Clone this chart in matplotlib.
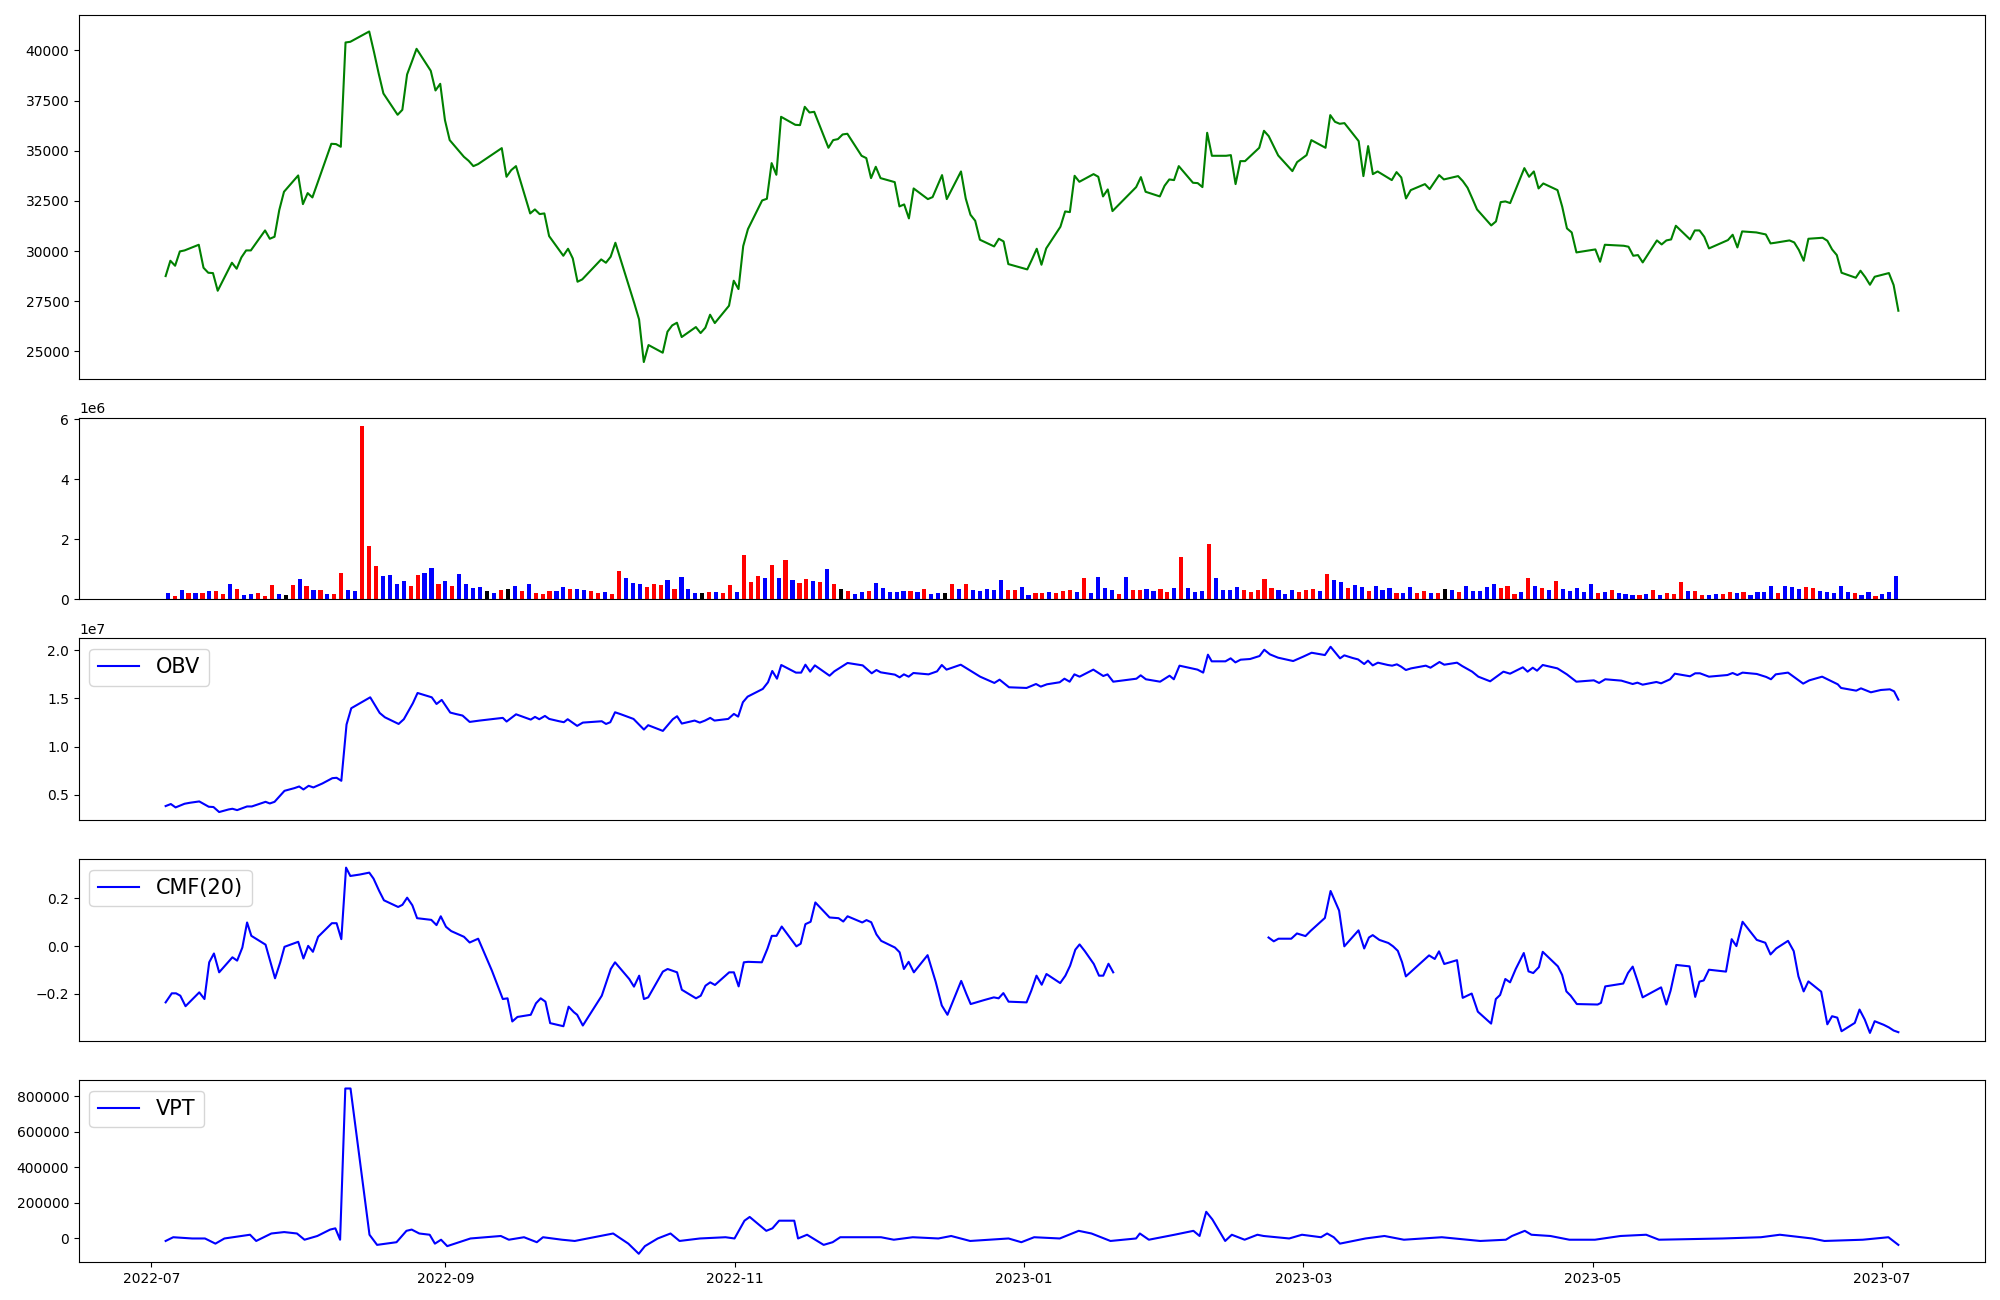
import numpy as np
import pandas as pd
import matplotlib
matplotlib.use("Agg")
import matplotlib.pyplot as plt
import matplotlib.dates as mdates

# ---------------- data ----------------
holidays = ['2022-08-15', '2022-09-09', '2022-09-12', '2022-10-03', '2022-10-10',
            '2022-12-30', '2023-01-23', '2023-01-24', '2023-03-01', '2023-05-01',
            '2023-05-05', '2023-05-29', '2023-06-06']
trade_dates = pd.bdate_range('2022-07-04', '2023-07-05').difference(pd.to_datetime(holidays))

close = [
    # 2022-07
    28755, 29519, 29270, 29984, 30034, 30316, 29170, 28921, 28904, 28024,
    29420, 29121, 29685, 30034, 30034, 31030, 30615, 30715, 32044, 32957,
    # 2022-08
    33771, 32342, 32891, 32675, 33339, 35349, 35333, 35200, 40399, 40432,
    40947, 39934, 38854, 37857, 36794, 37043, 38804, 39435, 40083, 38987,
    38007, 38339,
    # 2022-09
    36528, 35532, 34701, 34502, 34236, 34336, 35133, 33705, 34037, 34236,
    31878, 32077, 31845, 31878, 30748, 29768, 30117, 29635, 28473, 28590,
    # 2022-10
    29586, 29420, 29718, 30416, 27393, 26596, 24470, 25317, 24935, 25982,
    26297, 26430, 25716, 26214, 25915, 26181, 26829, 26413, 27277,
    # 2022-11
    28523, 28108, 30250, 31097, 32525, 32608, 34386, 33805, 36694, 36295,
    36279, 37192, 36910, 36943, 35150, 35532, 35582, 35814, 35848, 34751,
    34635, 33638,
    # 2022-12
    34203, 33638, 33439, 32226, 32326, 31629, 33123, 32592, 32691, 33240,
    33788, 32592, 33970, 32625, 31812, 31513, 30566, 30233, 30615, 30482,
    29353,
    # 2023-01
    29087, 29586, 30117, 29320, 30134, 31213, 31977, 31944, 33754, 33455,
    33837, 33705, 32725, 33074, 31994, 33190, 33688, 32957, 32725, 33256,
    # 2023-02
    33572, 33539, 34236, 33406, 33389, 33190, 35897, 34751, 34751, 34784,
    33339, 34485, 34485, 35150, 35997, 35731, 35250, 34768, 33987, 34436,
    # 2023-03
    34784, 35532, 35150, 36778, 36445, 36346, 36379, 35482, 33738, 35233,
    33837, 33970, 33539, 33937, 33671, 32625, 33040, 33339, 33090, 33439,
    33788, 33572,
    # 2023-04
    33738, 33489, 33157, 32625, 32077, 31280, 31479, 32442, 32476, 32393,
    34136, 33705, 33970, 33123, 33372, 33040, 32210, 31130, 30931, 29934,
    # 2023-05
    30084, 29469, 30316, 30266, 30217, 29768, 29801, 29436, 30532, 30333,
    30532, 30582, 31263, 30582, 31030, 31030, 30715, 30134, 30549, 30815,
    # 2023-06
    30183, 30981, 30931, 30831, 30383, 30416, 30532, 30433, 30050, 29519,
    30615, 30665, 30516, 30084, 29801, 28921, 28672, 29021, 28705, 28323,
    28722,
    # 2023-07
    28905, 28307, 27028,
]

volume_m = [
    0.20, 0.13, 0.30, 0.20, 0.20, 0.20, 0.28, 0.28, 0.18, 0.51,
    0.34, 0.14, 0.18, 0.21, 0.11, 0.48, 0.18, 0.14, 0.48, 0.67,
    0.44, 0.31, 0.31, 0.18, 0.18, 0.87, 0.31, 0.28, 5.76, 1.77,
    1.10, 0.77, 0.80, 0.51, 0.61, 0.44, 0.81, 0.87, 1.03, 0.51,
    0.61, 0.44, 0.84, 0.51, 0.38, 0.41, 0.28, 0.21, 0.31, 0.34,
    0.44, 0.28, 0.51, 0.21, 0.18, 0.28, 0.28, 0.41, 0.34, 0.34,
    0.31, 0.28, 0.21, 0.24, 0.18, 0.94, 0.71, 0.54, 0.51, 0.41,
    0.51, 0.48, 0.64, 0.34, 0.74, 0.34, 0.21, 0.21, 0.24, 0.24,
    0.21, 0.48, 0.24, 1.47, 0.58, 0.78, 0.71, 1.14, 0.71, 1.31,
    0.64, 0.54, 0.68, 0.61, 0.58, 1.01, 0.51, 0.34, 0.28, 0.18,
    0.24, 0.28, 0.54, 0.38, 0.24, 0.24, 0.28, 0.28, 0.24, 0.34,
    0.18, 0.21, 0.21, 0.51, 0.34, 0.51, 0.31, 0.28, 0.34, 0.31,
    0.64, 0.31, 0.31, 0.41, 0.14, 0.21, 0.21, 0.24, 0.21, 0.28,
    0.31, 0.24, 0.71, 0.21, 0.74, 0.38, 0.31, 0.18, 0.74, 0.31,
    0.31, 0.34, 0.28, 0.34, 0.24, 0.38, 1.41, 0.38, 0.24, 0.28,
    1.84, 0.71, 0.31, 0.31, 0.41, 0.31, 0.24, 0.31, 0.68, 0.38,
    0.31, 0.18, 0.31, 0.24, 0.31, 0.34, 0.28, 0.84, 0.64, 0.58,
    0.38, 0.48, 0.41, 0.28, 0.44, 0.31, 0.38, 0.21, 0.21, 0.41,
    0.21, 0.28, 0.21, 0.21, 0.34, 0.31, 0.24, 0.44, 0.28, 0.28,
    0.41, 0.51, 0.38, 0.44, 0.18, 0.24, 0.71, 0.44, 0.38, 0.31,
    0.61, 0.34, 0.28, 0.38, 0.24, 0.51, 0.21, 0.24, 0.31, 0.21,
    0.18, 0.14, 0.14, 0.18, 0.31, 0.14, 0.21, 0.18, 0.58, 0.28,
    0.28, 0.14, 0.14, 0.18, 0.18, 0.24, 0.21, 0.24, 0.14, 0.24,
    0.24, 0.44, 0.21, 0.44, 0.41, 0.34, 0.41, 0.38, 0.28, 0.24,
    0.21, 0.44, 0.24, 0.21, 0.14, 0.24, 0.11, 0.18, 0.24, 0.78,
]

# r = up (red), b = down (blue), k = unchanged (black)
volume_dir = (
    "brbrbrbrrb" "rbbrrrbkrb" "rbrbrrbbrr" "rbbbbrrbbr" "brbbbbkbrk"
    "brbrrrbbrb" "brrbrrbbbr" "rrbrbbbkrb" "rrbrrrbrbr" "brrbrbrkrb"
    "brbbbbbrbr" "bbkrbrbbbb" "brrbbrrbrr" "rbrbbbbrbr" "rbbrrbrbbb"
    "rbbbbrrrrr" "bbbrrrbrbb" "rbbrbbbrbb" "rrbrkbrbbb" "bbrrrbrbrb"
    "rbbbbbrbrb" "bbrbrbrrrb" "rrbbrrbrbb" "bbrbbbrrbb" "bbbrbbrbbb"
)

# OBV (1e7 units), day offsets from 2022-07-01
obv_day = [
    2.8, 3.9, 4.9, 6.8, 7.9, 9.9, 11.9, 12.9, 14.1, 16.1, 16.9, 17.9, 20.0, 21.0,
    23.9, 24.8, 25.8, 27.9, 30.0, 31.0, 31.9, 33.0, 34.0, 35.9, 38.0, 38.9, 39.9,
    41.0, 42.0, 46.0, 48.0, 49.1, 52.0, 53.1, 55.0, 56.0, 59.0, 60.0, 61.1, 62.9,
    64.0, 65.5, 67.0, 68.0, 69.1, 74.0, 74.8, 76.8, 79.9, 80.8, 81.7, 82.9, 83.8,
    85.9, 86.9, 87.7, 89.7, 90.9, 94.9, 95.8, 96.7, 97.7, 98.9, 101.6, 103.8,
    104.7, 107.8, 109.9, 110.8, 111.8, 114.5, 115.6, 116.7, 117.8, 118.7, 121.6,
    122.8, 123.7, 124.7, 125.7, 128.9, 130.0, 130.9, 131.9, 132.8, 135.9, 137.0,
    137.9, 138.9, 139.9, 143.0, 144.0, 146.8, 150.0, 151.9, 152.9, 153.8, 156.8,
    157.8, 158.7, 159.7, 160.7, 163.9, 165.7, 166.7, 167.7, 170.7, 174.8, 177.8,
    178.9, 180.9, 184.6, 186.6, 187.6, 188.9, 191.6, 192.6, 193.7, 194.7, 195.8,
    198.7, 200.8, 201.7, 202.9, 207.8, 208.7, 209.8, 212.8, 214.8, 215.7, 216.9,
    220.7, 221.9, 222.9, 223.7, 226.6, 227.7, 228.7, 229.8, 231.8, 233.8, 234.8,
    236.0, 237.7, 240.9, 243.0, 244.8, 247.6, 248.8, 250.8, 251.7, 253.5, 254.6,
    255.9, 256.7, 257.7, 258.8, 260.9, 261.8, 262.8, 263.7, 264.7, 265.8, 268.9,
    269.9, 271.8, 272.8, 275.5, 276.6, 278.7, 280.0, 282.5, 285.3, 286.7, 289.4,
    290.4, 291.5, 292.4, 293.6, 296.7, 298.7, 300.7, 304.4, 305.5, 306.8, 310.2,
    312.6, 313.6, 314.7, 317.6, 318.6, 320.5, 321.5, 324.7, 325.8, 326.8, 328.7,
    332.6, 333.7, 334.7, 335.8, 338.8, 340.8, 341.8, 342.8, 345.4, 348.6, 349.9,
    352.6, 355.9, 356.6, 359.8, 360.8, 362.9, 365.0, 366.9, 367.8, 368.7,
]
obv_val = [
    0.383, 0.404, 0.369, 0.407, 0.417, 0.431, 0.376, 0.373, 0.321, 0.348, 0.355,
    0.341, 0.379, 0.379, 0.427, 0.410, 0.427, 0.541, 0.569, 0.586, 0.555, 0.593,
    0.576, 0.617, 0.672, 0.676, 0.645, 1.228, 1.397, 1.510, 1.348, 1.303, 1.234,
    1.283, 1.448, 1.555, 1.510, 1.441, 1.483, 1.352, 1.338, 1.321, 1.255, 1.262,
    1.269, 1.297, 1.259, 1.334, 1.279, 1.307, 1.283, 1.317, 1.286, 1.262, 1.252,
    1.283, 1.214, 1.248, 1.262, 1.234, 1.252, 1.355, 1.335, 1.286, 1.176, 1.221,
    1.162, 1.283, 1.314, 1.238, 1.269, 1.248, 1.269, 1.297, 1.269, 1.286, 1.338,
    1.310, 1.459, 1.517, 1.597, 1.666, 1.783, 1.703, 1.845, 1.766, 1.766, 1.848,
    1.776, 1.841, 1.734, 1.779, 1.866, 1.841, 1.759, 1.793, 1.769, 1.745, 1.717,
    1.748, 1.724, 1.762, 1.748, 1.779, 1.845, 1.797, 1.848, 1.724, 1.659, 1.693,
    1.614, 1.607, 1.648, 1.621, 1.645, 1.666, 1.703, 1.672, 1.748, 1.724, 1.797,
    1.731, 1.748, 1.672, 1.703, 1.738, 1.697, 1.672, 1.734, 1.697, 1.838, 1.797,
    1.766, 1.952, 1.883, 1.883, 1.914, 1.872, 1.900, 1.907, 1.938, 2.003, 1.955,
    1.921, 1.886, 1.931, 1.972, 1.948, 2.034, 1.914, 1.945, 1.917, 1.903, 1.855,
    1.890, 1.841, 1.869, 1.845, 1.838, 1.852, 1.828, 1.793, 1.810, 1.838, 1.817,
    1.876, 1.848, 1.869, 1.834, 1.776, 1.724, 1.676, 1.776, 1.755, 1.821, 1.776,
    1.817, 1.786, 1.845, 1.810, 1.748, 1.672, 1.686, 1.659, 1.697, 1.683, 1.648,
    1.662, 1.641, 1.669, 1.655, 1.697, 1.755, 1.728, 1.759, 1.759, 1.724, 1.741,
    1.762, 1.741, 1.766, 1.752, 1.721, 1.697, 1.748, 1.766, 1.652, 1.686, 1.724,
    1.645, 1.607, 1.579, 1.603, 1.562, 1.586, 1.593, 1.572, 1.486,
]

# CMF(20), day offsets from 2022-07-01 (nan = gap in the series)
cmf_day = [
    2.8, 4.1, 5.0, 5.9, 7.0, 9.9, 11.0, 12.0, 13.0, 14.1, 16.9, 17.9, 19.0, 20.0,
    20.9, 23.9, 25.9, 27.0, 27.9, 30.8, 31.9, 32.9, 33.9, 35.0, 37.9, 38.9, 39.9,
    40.9, 41.8, 43.8, 45.8, 46.7, 47.9, 48.9, 51.9, 52.8, 53.8, 54.9, 55.9, 58.9,
    60.0, 60.9, 62.0, 63.1, 65.8, 67.0, 68.8, 71.7, 74.0, 75.0, 76.0, 77.1, 79.9,
    81.0, 82.0, 83.0, 84.0, 86.8, 87.9, 89.0, 89.7, 90.9, 94.9, 96.8, 97.7, 100.7,
    101.7, 102.8, 103.8, 104.7, 107.8, 108.8, 110.8, 111.8, 114.8, 115.8, 116.8,
    117.8, 118.8, 121.8, 122.8, 123.8, 124.9, 125.8, 128.7, 129.9, 130.8, 131.8,
    132.9, 136.0, 136.9, 137.9, 139.0, 140.0, 143.0, 144.9, 145.9, 146.8, 149.9,
    150.8, 151.8, 152.9, 153.9, 156.8, 157.8, 158.7, 159.7, 160.8, 163.7, 165.4,
    166.7, 167.9, 170.8, 171.9, 172.8, 175.7, 177.7, 178.7, 179.7, 180.8, 184.6,
    185.6, 186.7, 187.8, 188.8, 191.7, 192.8, 193.8, 194.9, 195.8, 196.9, 198.8,
    199.9, 200.8, 201.9, 202.9,
    219.0,
    235.7, 236.8, 237.8, 240.5, 241.7, 243.5, 244.6, 247.6, 248.8, 250.6, 251.7,
    254.7, 255.9, 256.9, 257.7, 259.1, 261.0, 262.0, 263.0, 263.9, 264.7, 269.6,
    270.8, 271.7, 272.8, 275.5, 276.7, 278.6, 279.9, 282.7, 283.7, 284.6, 285.7,
    286.7, 287.9, 289.6, 290.6, 291.6, 292.8, 293.6, 296.8, 297.7, 298.6, 299.5,
    300.8, 305.2, 305.9, 306.8, 310.6, 311.6, 312.6, 313.6, 314.7, 318.6, 319.7,
    320.6, 321.8, 324.6, 325.8, 326.7, 327.6, 328.7, 332.3, 333.5, 334.5, 335.8,
    338.8, 340.6, 341.7, 342.9, 345.4, 346.6, 347.6, 348.7, 349.7, 352.4, 353.7,
    354.7, 355.8, 356.7, 359.5, 360.5, 361.6, 362.7, 363.7, 365.6, 366.7, 367.7,
    368.7,
]
cmf_val = [
    -0.236, -0.198, -0.198, -0.208, -0.252, -0.194, -0.222, -0.068, -0.031, -0.110,
    -0.047, -0.061, -0.006, 0.099, 0.043, 0.006, -0.135, -0.068, -0.003, 0.018,
    -0.052, 0.001, -0.024, 0.039, 0.096, 0.096, 0.029, 0.329, 0.294, 0.300,
    0.308, 0.283, 0.231, 0.192, 0.164, 0.173, 0.203, 0.171, 0.117, 0.110,
    0.088, 0.125, 0.081, 0.063, 0.039, 0.015, 0.031, -0.103, -0.222, -0.219,
    -0.316, -0.297, -0.288, -0.240, -0.219, -0.233, -0.323, -0.336, -0.254, -0.277,
    -0.288, -0.333, -0.208, -0.096, -0.068, -0.138, -0.170, -0.124, -0.222, -0.215,
    -0.107, -0.096, -0.110, -0.183, -0.219, -0.208, -0.166, -0.152, -0.163, -0.110,
    -0.110, -0.169, -0.068, -0.066, -0.068, -0.010, 0.043, 0.043, 0.082, -0.001,
    0.010, 0.092, 0.102, 0.183, 0.120, 0.117, 0.103, 0.125, 0.099, 0.109,
    0.100, 0.049, 0.022, -0.006, -0.026, -0.096, -0.066, -0.110, -0.038, -0.149,
    -0.249, -0.288, -0.146, -0.201, -0.243, -0.226, -0.215, -0.219, -0.197, -0.233,
    -0.236, -0.187, -0.124, -0.162, -0.117, -0.155, -0.124, -0.082, -0.015, 0.007,
    -0.021, -0.075, -0.124, -0.124, -0.074, -0.110,
    np.nan,
    0.036, 0.020, 0.031, 0.031, 0.053, 0.042, 0.064, 0.118, 0.231, 0.149,
    -0.001, 0.066, -0.010, 0.036, 0.046, 0.026, 0.013, -0.001, -0.020, -0.068,
    -0.127, -0.039, -0.054, -0.022, -0.075, -0.059, -0.217, -0.199, -0.275, -0.325,
    -0.222, -0.205, -0.138, -0.152, -0.096, -0.029, -0.106, -0.113, -0.088, -0.024,
    -0.085, -0.121, -0.190, -0.208, -0.243, -0.245, -0.238, -0.169, -0.157, -0.113,
    -0.086, -0.145, -0.215, -0.173, -0.245, -0.187, -0.079, -0.085, -0.213, -0.149,
    -0.144, -0.099, -0.107, 0.029, 0.000, 0.102, 0.026, 0.014, -0.035, -0.010,
    0.022, -0.021, -0.127, -0.190, -0.148, -0.191, -0.328, -0.294, -0.300, -0.357,
    -0.322, -0.266, -0.308, -0.364, -0.315, -0.330, -0.341, -0.354, -0.361,
]

# VPT, day offsets from 2022-07-01
vpt_day = [
    3.0, 4.6, 8.6, 11.3, 13.5, 15.4, 20.8, 22.1, 25.3, 28.0, 30.7, 32.3, 35.0,
    37.7, 38.8, 39.8, 40.9, 42.0, 46.0, 47.6, 51.7, 53.8, 54.9, 56.5, 58.7, 59.8,
    61.1, 62.4, 67.3, 73.7, 75.4, 78.6, 81.3, 82.6, 86.6, 89.3, 97.4, 100.6, 102.8,
    104.1, 106.8, 109.5, 111.4, 115.7, 121.1, 123.0, 125.1, 126.2, 129.7, 131.0,
    132.4, 135.6, 136.4, 138.3, 141.8, 143.7, 145.3, 153.9, 156.6, 160.6, 166.0,
    168.7, 172.7, 180.8, 183.5, 186.2, 191.6, 195.6, 198.3, 202.3, 207.7, 208.5,
    210.4, 215.8, 219.8, 221.1, 222.5, 223.8, 226.5, 227.9, 230.6, 233.3, 234.6,
    240.0, 242.7, 246.7, 248.0, 249.4, 250.7, 256.1, 260.1, 264.2, 272.2, 280.3,
    285.7, 287.0, 289.7, 291.1, 295.1, 299.1, 304.5, 309.9, 315.3, 318.0, 331.4,
    339.5, 343.5, 350.3, 352.9, 361.0, 366.4, 368.5,
]
vpt_val = [
    -14000, 7000, 0, 0, -29000, 0, 21000, -14000, 28000, 36000, 28000, -7000,
    14000, 50000, 57000, -7000, 843000, 843000, 21000, -36000, -21000, 43000,
    50000, 28000, 21000, -29000, -7000, -43000, 0, 14000, -7000, 7000, -21000,
    7000, -7000, -14000, 28000, -29000, -86000, -43000, 0, 28000, -14000, 0,
    7000, 0, 100000, 121000, 43000, 57000, 100000, 100000, 0, 21000, -36000,
    -21000, 7000, 7000, -7000, 7000, 0, 14000, -14000, 0, -21000, 7000, 0,
    43000, 28000, -14000, 0, 28000, -7000, 21000, 43000, 14000, 150000, 107000,
    -14000, 21000, -7000, 21000, 14000, 0, 21000, 7000, 28000, 7000, -29000, 0,
    14000, -7000, 7000, -14000, -7000, 14000, 43000, 21000, 14000, -7000, -7000,
    14000, 21000, -7000, 0, 7000, 21000, 0, -14000, -7000, 7000, -36000,
]

# ---------------- figure ----------------
base = pd.Timestamp('2022-07-01')
def to_dates(days):
    return base + pd.to_timedelta(np.asarray(days, dtype=float), unit='D')

color_map = {'r': 'red', 'b': 'blue', 'k': 'black'}
bar_colors = [color_map[c] for c in volume_dir]
volume = np.array(volume_m) * 1e6

fig = plt.figure(figsize=(20, 13), dpi=100)
gs = fig.add_gridspec(5, 1, height_ratios=[2, 1, 1, 1, 1], hspace=0.179,
                      left=0.0395, right=0.9925, top=0.9885, bottom=0.0292)
ax_p = fig.add_subplot(gs[0])
ax_v = fig.add_subplot(gs[1])
ax_o = fig.add_subplot(gs[2])
ax_c = fig.add_subplot(gs[3])
ax_t = fig.add_subplot(gs[4])

ax_p.plot(trade_dates, close, color='green', linewidth=1.5)
ax_p.set_xticks([])

ax_v.bar(np.arange(len(volume)), volume, width=0.6, color=bar_colors)
ax_v.set_xticks([])

ax_o.plot(to_dates(obv_day), np.array(obv_val) * 1e7, color='blue', label='OBV')
ax_o.legend(loc='upper left', fontsize=15)
ax_o.set_xticks([])

ax_c.plot(to_dates(cmf_day), cmf_val, color='blue', label='CMF(20)')
ax_c.legend(loc='upper left', fontsize=15)
ax_c.set_xticks([])

ax_t.plot(to_dates(vpt_day), vpt_val, color='blue', label='VPT')
ax_t.legend(loc='upper left', fontsize=15)
ax_t.xaxis.set_major_locator(mdates.MonthLocator(bymonth=[1, 3, 5, 7, 9, 11]))
ax_t.xaxis.set_major_formatter(mdates.DateFormatter('%Y-%m'))

fig.savefig('out.png', dpi=100)
